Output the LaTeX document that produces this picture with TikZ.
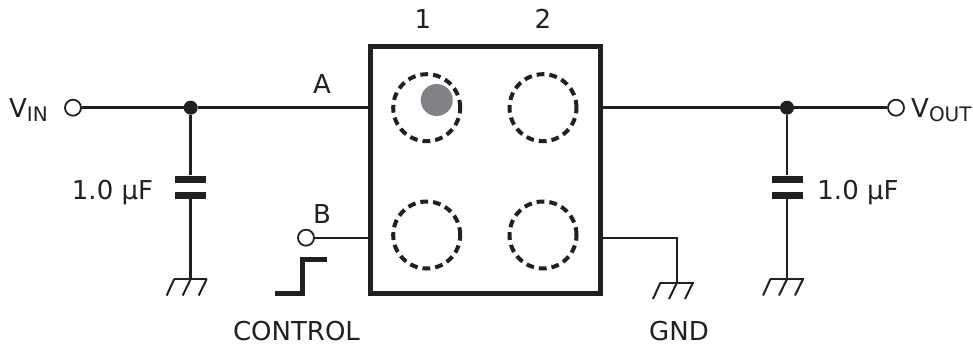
\documentclass[tikz,border=0pt]{standalone}
\usepackage{fontspec}
\setmainfont{DejaVu Sans}
\definecolor{ink}{HTML}{231F20}
\definecolor{dotgray}{HTML}{808285}
\tikzset{
  x=1pt,y=-1pt,
  wire/.style={draw=ink,line width=2.8pt},
  thinwire/.style={draw=ink,line width=2.2pt},
  term/.style={circle,draw=ink,fill=white,line width=1.8pt,minimum size=16pt,inner sep=0pt},
  junction/.style={circle,fill=ink,minimum size=14pt,inner sep=0pt},
  plate/.style={rectangle,fill=ink,minimum width=31pt,minimum height=7.5pt,inner sep=0pt},
  ball/.style={circle,draw=ink,line width=4pt,dash pattern=on 7.8pt off 5pt,minimum size=67pt,inner sep=0pt},
  chip/.style={rectangle,draw=ink,line width=5pt,fill=white,minimum width=230pt,minimum height=246.5pt,inner sep=0pt},
  lab/.style={text=ink,font=\fontsize{26}{26}\selectfont,inner sep=0pt,anchor=base},
  sublab/.style={text=ink,font=\fontsize{26}{26}\selectfont,inner sep=0pt,anchor=base west},
  gnd/.style={draw=ink,line width=2pt}
}
\newcommand{\groundmark}[1]{%
  \draw[gnd] ($(#1)+(-17,0)$) -- ($(#1)+(16.5,0)$);
  \draw[gnd] ($(#1)+(-16.5,0)$) -- ($(#1)+(-24,16.5)$);
  \draw[gnd] ($(#1)+(0,0)$) -- ($(#1)+(-8,16.5)$);
  \draw[gnd] ($(#1)+(16,0)$) -- ($(#1)+(8,16.5)$);
}
\usetikzlibrary{calc}
\begin{document}
\begin{tikzpicture}
\useasboundingbox (0,0) rectangle (973,345);
% chip
\node[chip] (chip) at (485,170.2) {};
\coordinate (chipA) at (370,107.7);
\coordinate (chipB) at (370,237.7);
\coordinate (chipO) at (600,107.7);
\coordinate (chipG) at (600,237.7);
% solder balls
\node[ball] (b1) at (426.7,107.7) {};
\node[ball] (b2) at (543,107.7) {};
\node[ball] (b3) at (426.7,235) {};
\node[ball] (b4) at (543,235) {};
\node[circle,fill=dotgray,minimum size=32pt,inner sep=0pt] (mark) at (436.7,100) {};
% input side
\node[term] (vin) at (73,107.7) {};
\node[junction] (j1) at (190.7,107.7) {};
\node[plate] (c1a) at (190.7,179.4) {};
\node[plate] (c1b) at (190.7,195.4) {};
\coordinate (g1) at (190.7,279);
\draw[wire] (vin) -- (j1);
\draw[wire] (j1) -- (chipA);
\draw[wire] (j1) -- (c1a);
\draw[wire] (c1b) -- (g1);
\groundmark{g1}
% control
\node[term] (ctl) at (306,237.7) {};
\draw[thinwire] (ctl) -- (chipB);
\coordinate (s0) at (275,293);
\coordinate (s1) at (302,293);
\coordinate (s2) at (302,259);
\coordinate (s3) at (327,259);
\draw[draw=ink,line width=5pt] (s0) -- (s1) -- (s2) -- (s3);
% output side
\node[term] (vout) at (896,107.7) {};
\node[junction] (j2) at (787,107.7) {};
\node[plate] (c2a) at (787,179.4) {};
\node[plate] (c2b) at (787,195.4) {};
\coordinate (g2) at (787,279);
\draw[wire] (chipO) -- (j2);
\draw[wire] (j2) -- (vout);
\draw[wire] (j2) -- (c2a);
\draw[wire] (c2b) -- (g2);
\groundmark{g2}
% GND
\coordinate (g3) at (677,282.5);
\draw[thinwire] (chipG) -| (g3);
\groundmark{g3}
% labels
\node[lab] (t1) at (423,29) {1};
\node[lab] (t2) at (543,29) {2};
\node[lab] (ta) at (322,93) {A};
\node[lab] (tb) at (322,223) {B};
\node[lab] (tc1) at (112.5,199) {1.0 µF};
\node[lab] (tc2) at (858,199) {1.0 µF};
\node[lab] (tctl) at (296.5,340) {CONTROL};
\node[lab] (tgnd) at (679,340) {GND};
\node[sublab] (tvin) at (9,117) {V\raisebox{-4pt}{\fontsize{20}{20}\selectfont IN}};
\node[sublab] (tvout) at (911,117) {V\raisebox{-4pt}{\fontsize{20}{20}\selectfont OUT}};
\end{tikzpicture}
\end{document}
